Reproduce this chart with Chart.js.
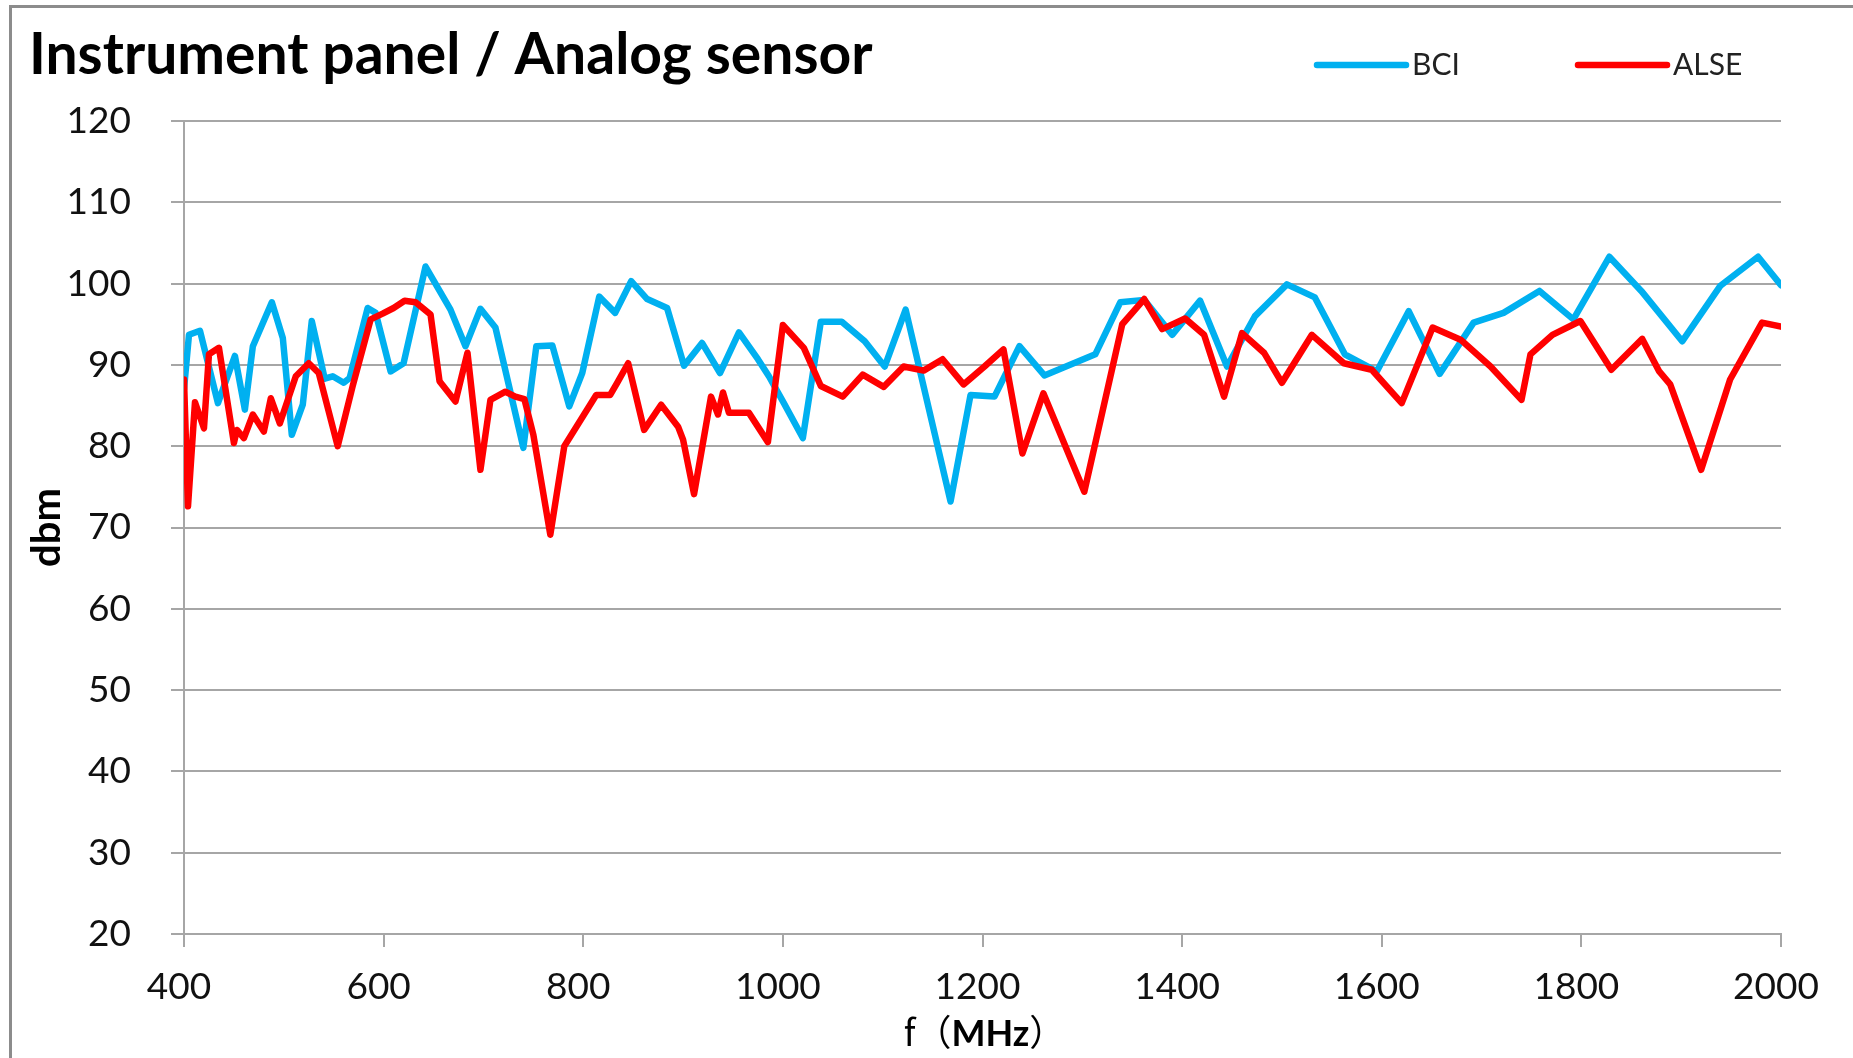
<!DOCTYPE html>
<html>
<head>
<meta charset="utf-8">
<title>Instrument panel / Analog sensor</title>
<script src="https://cdn.jsdelivr.net/npm/chart.js@4.4.1/dist/chart.umd.min.js"></script>
<style>
  html, body { margin: 0; padding: 0; background: #fff; overflow: hidden; }
  #wrap { position: relative; width: 1853px; height: 1058px; }
  #chart { position: absolute; top: 0; left: 0; }
  /* the grey frame of the original sheet (top + left edges only) */
  #frame { position: absolute; top: 5px; left: 9px; right: 0; bottom: 0;
           border-top: 3px solid #8c8c8c; border-left: 3px solid #8c8c8c; pointer-events: none; }
</style>
</head>
<body>
<div id="wrap">
  <canvas id="chart" width="1853" height="1058"></canvas>
  <div id="frame"></div>
</div>
<script>
/* ---- data ---- */
const CHART_TITLE = "Instrument panel / Analog sensor";
const SERIES_NAMES = ["BCI", "ALSE"];
const X_TITLE = ["f", "（", "MHz", "）"];
const Y_TITLE = "dbm";
const xTicks = [400, 600, 800, 1000, 1200, 1400, 1600, 1800, 2000];
const yTicks = [20, 30, 40, 50, 60, 70, 80, 90, 100, 110, 120];

const bciFreq = [400, 405, 416, 434, 451, 461, 469, 488, 499, 508, 519, 528, 541, 549, 560, 566, 584, 592, 607, 620,
  642, 667, 682, 697, 712, 740, 753, 769, 786, 799, 816, 832, 848, 864, 884, 901, 919, 937, 956, 975,
  986, 1001, 1020, 1038, 1059, 1082, 1102, 1123, 1168, 1188, 1212, 1237, 1262, 1313, 1338, 1362, 1390, 1418, 1445, 1473,
  1505, 1533, 1563, 1595, 1627, 1658, 1692, 1722, 1758, 1792, 1828, 1860, 1901, 1939, 1977, 2000];
const bciLevel = [87.0, 93.7, 94.2, 85.3, 91.1, 84.5, 92.3, 97.7, 93.3, 81.4, 85.1, 95.4, 88.3, 88.6, 87.8, 88.4, 97.0, 96.4, 89.2, 90.2,
  102.1, 96.8, 92.3, 96.9, 94.6, 79.8, 92.3, 92.4, 84.9, 89.0, 98.4, 96.4, 100.3, 98.1, 97.0, 89.9, 92.7, 89.0, 94.0, 90.7,
  88.6, 85.3, 81.0, 95.3, 95.3, 92.9, 89.8, 96.8, 73.2, 86.3, 86.1, 92.3, 88.7, 91.3, 97.7, 98.0, 93.7, 97.9, 89.8, 96.0,
  99.9, 98.3, 91.3, 89.2, 96.6, 88.9, 95.2, 96.4, 99.1, 95.6, 103.3, 99.1, 92.9, 99.7, 103.3, 99.8];

const alseFreq = [400, 404, 411, 420, 425, 435, 450, 453, 460, 469, 480, 487, 496, 512, 525, 535, 554, 569, 587, 599,
  610, 621, 632, 647, 656, 672, 684, 697, 707, 722, 732, 741, 750, 767, 781, 813, 827, 834, 845, 861,
  878, 895, 900, 911, 928, 935, 940, 946, 966, 985, 1000, 1021, 1038, 1060, 1080, 1101, 1121, 1141, 1160, 1181,
  1202, 1221, 1240, 1261, 1302, 1340, 1362, 1380, 1403, 1422, 1442, 1460, 1482, 1500, 1530, 1562, 1590, 1620, 1651, 1679,
  1709, 1740, 1749, 1771, 1799, 1830, 1861, 1878, 1889, 1920, 1949, 1981, 2000];
const alseLevel = [88.2, 72.6, 85.4, 82.2, 91.3, 92.1, 80.4, 82.0, 81.0, 83.9, 81.8, 85.9, 82.8, 88.6, 90.2, 89.0, 80.0, 87.4, 95.6, 96.3,
  97.0, 97.9, 97.7, 96.2, 88.0, 85.5, 91.5, 77.1, 85.7, 86.7, 86.1, 85.8, 81.4, 69.1, 80.0, 86.3, 86.3, 87.8, 90.2, 82.0,
  85.1, 82.4, 80.8, 74.1, 86.1, 83.9, 86.6, 84.1, 84.1, 80.5, 94.9, 92.1, 87.4, 86.1, 88.8, 87.3, 89.8, 89.3, 90.7, 87.6,
  89.8, 91.9, 79.1, 86.5, 74.4, 95.0, 98.1, 94.4, 95.7, 93.7, 86.1, 93.9, 91.5, 87.8, 93.7, 90.2, 89.4, 85.3, 94.6, 93.1,
  89.8, 85.7, 91.3, 93.7, 95.4, 89.4, 93.2, 89.2, 87.6, 77.1, 88.2, 95.2, 94.7];

const BLUE = "#00B0F0", RED = "#FF0000", GRID = "#a6a6a6";
const pts = (xs, ys) => xs.map((x, i) => ({ x: x, y: ys[i] }));

// title, legend row and the mixed-font x title are drawn by hand (Chart.js can't put them on one line)
const header = {
  id: "header",
  afterDraw(chart) {
    const ctx = chart.ctx, area = chart.chartArea;
    ctx.save();
    ctx.fillStyle = "#000";
    ctx.textBaseline = "alphabetic";
    ctx.textAlign = "left";
    ctx.font = "bold 57px Lato";
    ctx.fillText(CHART_TITLE, 29, 74);

    // legend
    const lx = [1317, 1578];
    chart.data.datasets.forEach((ds, i) => {
      ctx.strokeStyle = ds.borderColor;
      ctx.lineWidth = 6.5;
      ctx.lineCap = "round";
      ctx.beginPath(); ctx.moveTo(lx[i], 65); ctx.lineTo(lx[i] + 89, 65); ctx.stroke();
      ctx.fillStyle = "#222";
      ctx.font = "30px Lato";
      ctx.fillText(ds.label, lx[i] + 95, 75);
    });

    // x title: f（MHz） with bold MHz
    const fonts = ["36px 'Noto Sans CJK JP'", "36px 'Noto Sans CJK JP'", "bold 36px Lato", "36px 'Noto Sans CJK JP'"];
    const widths = X_TITLE.map((t, i) => { ctx.font = fonts[i]; return ctx.measureText(t).width; });
    let x = (area.left + area.right) / 2 + 2 - widths.reduce((a, b) => a + b, 0) / 2;
    ctx.fillStyle = "#000";
    X_TITLE.forEach((t, i) => { ctx.font = fonts[i]; ctx.fillText(t, x, 1046); x += widths[i]; });
    ctx.restore();
  }
};

function build() {
  Chart.defaults.font.family = "Lato";
  new Chart(document.getElementById("chart"), {
    type: "line",
    data: {
      datasets: [
        { label: SERIES_NAMES[0], data: pts(bciFreq, bciLevel), borderColor: BLUE, order: 1 },
        { label: SERIES_NAMES[1], data: pts(alseFreq, alseLevel), borderColor: RED, order: 0 },
      ].map((d) => Object.assign(d, { borderWidth: 6.5, pointRadius: 0, tension: 0, fill: false,
        borderJoinStyle: "round", borderCapStyle: "round" })),
    },
    options: {
      responsive: false, animation: false,
      layout: { padding: { top: 121, right: 72, left: 0, bottom: 0 } },
      plugins: { legend: { display: false }, title: { display: false }, tooltip: { enabled: false } },
      scales: {
        x: {
          type: "linear", min: 400, max: 2000,
          afterBuildTicks: (s) => { s.ticks = xTicks.map((v) => ({ value: v })); },
          afterFit: (s) => { s.height = 124; },
          ticks: { font: { size: 37 }, color: "#111", padding: 18, labelOffset: -5, maxRotation: 0,
                   callback: (v) => String(v) },
          grid: { drawOnChartArea: false, drawTicks: true, tickLength: 13, color: GRID, lineWidth: 2 },
          border: { color: GRID, width: 2 },
        },
        y: {
          min: 20, max: 120,
          afterBuildTicks: (s) => { s.ticks = yTicks.map((v) => ({ value: v })); },
          afterFit: (s) => { s.width = 184; },
          ticks: { font: { size: 37 }, color: "#111", padding: 40 },
          grid: { color: GRID, lineWidth: 2, tickLength: 13 },
          border: { color: GRID, width: 2 },
          title: { display: true, text: Y_TITLE, color: "#000", font: { size: 40, weight: "bold" }, padding: { top: 23, bottom: 0 } },
        },
      },
    },
    plugins: [header],
  });
}

Promise.all(["bold 57px Lato", "30px Lato", "36px 'Noto Sans CJK JP'"].map((f) => document.fonts.load(f, "（MHz）")))
  .catch(() => null).then(build);
</script>
</body>
</html>
